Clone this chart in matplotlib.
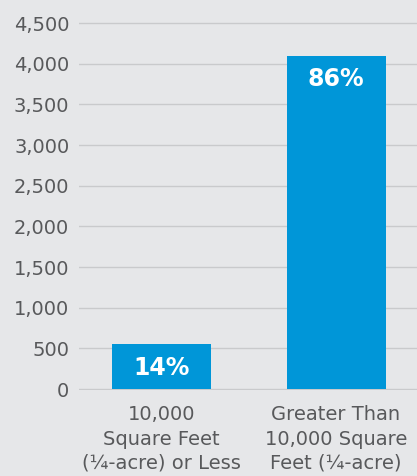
import matplotlib
matplotlib.use('Agg')
from matplotlib import pyplot as plt

# datos del grafico
categorias = ['10,000\nSquare Feet\n(¼-acre) or Less',
              'Greater Than\n10,000 Square\nFeet (¼-acre)']
valores = [550, 4100]
porcentajes = ['14%', '86%']
ticks_y = [0, 500, 1000, 1500, 2000, 2500, 3000, 3500, 4000, 4500]

fondo = '#e6e7e9'
azul = '#0096d8'
gris_texto = '#58595b'
gris_linea = '#c9cacc'

fig = plt.figure(figsize=(4.17, 4.76), dpi=100, facecolor=fondo)
ax = fig.add_axes([0.1894, 0.1807, 0.8106, 0.7878], facecolor=fondo)

x = list(range(len(valores)))
barras = ax.bar(x, valores, width=0.567, color=azul, zorder=3)

for b, p in zip(barras, porcentajes):
    ax.annotate(p, (b.get_x() + b.get_width() / 2, b.get_height()),
                xytext=(0, -17), textcoords='offset points',
                ha='center', va='center', color='white',
                fontsize=17, fontweight='bold', zorder=4)

ax.set_xlim(-0.473, 1.464)
ax.set_ylim(-12, 4600)
ax.set_yticks(ticks_y)
ax.set_yticklabels([f'{v:,}' for v in ticks_y])
ax.set_xticks(x)
ax.set_xticklabels(categorias, linespacing=1.35)

ax.yaxis.grid(True, color=gris_linea, linewidth=1.0, zorder=0)
ax.set_axisbelow(True)
for s in ax.spines.values():
    s.set_visible(False)
ax.tick_params(axis='both', length=0, labelsize=14, colors=gris_texto)
ax.tick_params(axis='y', pad=7)
ax.tick_params(axis='x', pad=11)

plt.savefig('out.png', dpi=100, facecolor=fondo)
